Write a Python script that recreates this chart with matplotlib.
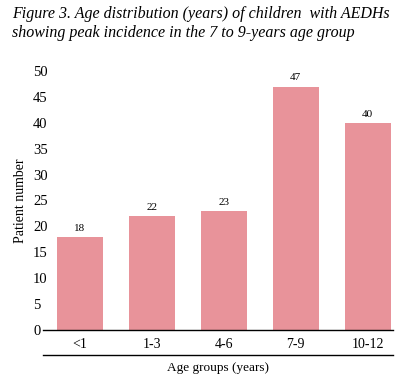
import matplotlib.pyplot as plt
from matplotlib.lines import Line2D

# data
groups = ['<1', '1-3', '4-6', '7-9', '10-12']
patients = [18, 22, 23, 47, 40]
yticks = list(range(0, 55, 5))

plt.rcParams['font.family'] = ['Liberation Serif', 'DejaVu Serif']

fig = plt.figure(figsize=(4.06, 3.80), dpi=100)
ax = fig.add_axes([0.106, 0.1316, 0.862, 0.6816])

x = list(range(len(groups)))
bars = ax.bar(x, patients, width=0.64, color='#e8939a')
ax.bar_label(bars, padding=3, fontsize=8)

ax.set_xlim(-0.51, 4.35)
ax.set_ylim(0, 50)
ax.set_yticks(yticks)
ax.set_xticks(x)
ax.set_xticklabels(groups, fontsize=10)
ax.tick_params(axis='y', length=0, pad=7.2, labelsize=10.5)
ax.tick_params(axis='x', length=0, pad=6)
for lab in ax.get_yticklabels():
    lab.set_horizontalalignment('left')

for s in ['top', 'right', 'left']:
    ax.spines[s].set_visible(False)
ax.spines['bottom'].set_linewidth(1.0)

# second rule under the category labels
ax.add_line(Line2D([0, 1], [-0.096, -0.096], transform=ax.transAxes,
                   color='black', lw=1.0, clip_on=False))

ax.set_xlabel('Age groups (years)', fontsize=9.5, labelpad=8)
ax.set_ylabel('Patient number', fontsize=10, labelpad=4)

fig.text(0.03, 0.985, 'Figure 3. Age distribution (years) of children  with AEDHs\n'
         'showing peak incidence in the 7 to 9-years age group',
         fontsize=11.5, style='italic', va='top', ha='left', linespacing=1.25)

plt.savefig('out.png', dpi=100)
